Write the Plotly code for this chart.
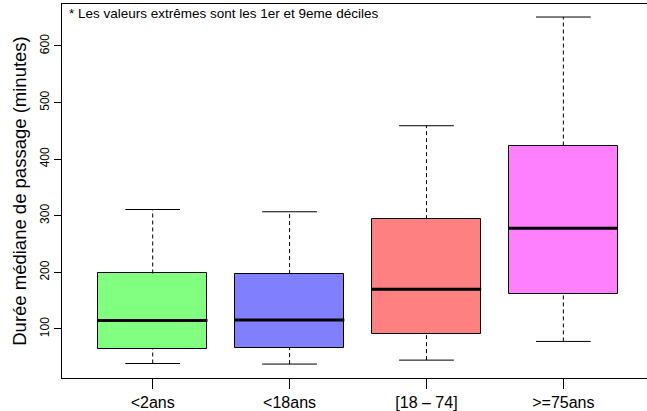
import plotly.graph_objects as go

# Data
categories = ["<2ans", "<18ans", "[18 – 74]", ">=75ans"]
d1 = [39, 38, 45, 78]          # 1st decile (lower whisker)
q1 = [65, 67, 91, 161]
median = [115, 116, 170, 278]
q3 = [198, 197, 294, 424]
d9 = [311, 307, 459, 651]      # 9th decile (upper whisker)
colors = ["#80FF80", "#8080FF", "#FF8080", "#FF80FF"]

y_ticks = [100, 200, 300, 400, 500, 600]
note = "* Les valeurs extrêmes sont les 1er et 9eme déciles"
y_title = "Durée médiane de passage (minutes)"

FONT = "Liberation Sans, Arial, Helvetica, sans-serif"
BOXW = 0.8
CAPW = BOXW / 2

pos = list(range(1, len(categories) + 1))

fig = go.Figure()

# whiskers (dashed)
wx, wy = [], []
for p, lo, a, b, hi in zip(pos, d1, q1, q3, d9):
    wx += [p, p, None, p, p, None]
    wy += [lo, a, None, b, hi, None]
fig.add_trace(go.Scatter(x=wx, y=wy, mode="lines",
                         line=dict(color="black", width=1, dash="4px,3px"),
                         hoverinfo="skip", showlegend=False))
# caps
cx, cy = [], []
for p, lo, hi in zip(pos, d1, d9):
    cx += [p - CAPW / 2, p + CAPW / 2, None, p - CAPW / 2, p + CAPW / 2, None]
    cy += [lo, lo, None, hi, hi, None]
fig.add_trace(go.Scatter(x=cx, y=cy, mode="lines",
                         line=dict(color="black", width=1),
                         hoverinfo="skip", showlegend=False))
# boxes
fig.add_trace(go.Bar(x=pos, base=q1, y=[b - a for a, b in zip(q1, q3)],
                     width=BOXW, marker=dict(color=colors, line=dict(color="black", width=1)),
                     showlegend=False))
# medians
mx, my = [], []
for p, m in zip(pos, median):
    mx += [p - BOXW / 2, p + BOXW / 2, None]
    my += [m, m, None]
fig.add_trace(go.Scatter(x=mx, y=my, mode="lines",
                         line=dict(color="black", width=3),
                         hoverinfo="skip", showlegend=False))

fig.add_annotation(text=note, xref="paper", yref="paper", x=0.008, y=1,
                   xanchor="left", yanchor="top", showarrow=False,
                   font=dict(family=FONT, size=13.5, color="black"))

fig.update_layout(
    width=647, height=411,
    margin=dict(l=62, r=0, t=4, b=33, autoexpand=False),
    paper_bgcolor="white", plot_bgcolor="white",
    font=dict(family=FONT, color="black"),
    bargap=0,
    xaxis=dict(range=[0.3375, 4.611], tickvals=pos, ticktext=categories,
               showline=True, mirror=True, linecolor="black", linewidth=1,
               ticks="outside", ticklen=10, tickcolor="black", tickwidth=1,
               showgrid=False, zeroline=False, tickfont=dict(size=16),
               automargin=False),
    yaxis=dict(range=[13.4, 674], tickvals=y_ticks, tickangle=-90,
               showline=True, linecolor="black", linewidth=1,
               ticks="outside", ticklen=7, tickcolor="black", tickwidth=1,
               showgrid=False, zeroline=False, tickfont=dict(size=12),
               automargin=False,
               title=dict(text=y_title, font=dict(size=18.5), standoff=6)),
)

fig.write_html("out.html", config={"displayModeBar": False},
               post_script="document.body.style.margin='0px';document.body.style.overflow='hidden';")
